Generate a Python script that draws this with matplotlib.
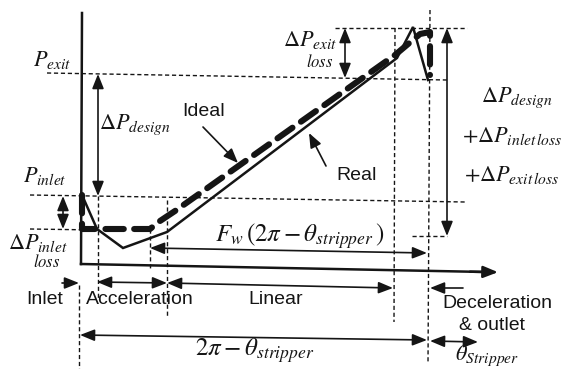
import matplotlib.pyplot as plt

# pressure profile of the sketch (x = angle, y = pressure, pixel frame)
ideal_x = [82, 82, 150, 160, 175, 395, 420, 430, 430]
ideal_y = [195, 229, 229, 221, 211, 55, 34, 32, 75]
real_x = [82, 97, 123, 167, 397, 413, 428]
real_y = [195, 229, 248, 232, 58, 27, 80]

zone_names = ["Inlet", "Acceleration", "Linear"]
zone_x = [45, 140, 276]

plt.rcParams['mathtext.fontset'] = 'stix'
fig = plt.figure(figsize=(5.64, 3.69), dpi=100)
ax = fig.add_axes([0, 0, 1, 1])
ax.set_xlim(0, 564)
ax.set_ylim(369, 0)
ax.axis('off')

K = '#151515'
dash = dict(color=K, lw=1.0, ls=(0, (3, 2)))


def arrow(p0, p1, both=False, lw=1.2):
    st = '<|-|>' if both else '-|>'
    ax.annotate('', xy=p1, xytext=p0,
                arrowprops=dict(arrowstyle=st + ',head_length=0.55,head_width=0.22',
                                mutation_scale=16, lw=lw, color=K,
                                shrinkA=0, shrinkB=0))


# axes
ax.plot([82, 81], [13, 264], color=K, lw=1.8)
ax.plot([81, 486], [264, 272], color=K, lw=1.8)
arrow((470, 271.7), (498, 272.2), lw=1.8)

# dashed guide lines
ax.plot([47, 447], [73, 80], **dash)
ax.plot([335, 467], [28, 28], **dash)
ax.plot([30, 465], [195, 202], **dash)
ax.plot([30, 97], [229, 230], **dash)
ax.plot([412, 447], [236, 236], **dash)
ax.plot([98, 98], [196, 300], **dash)
ax.plot([150, 150], [229, 268], **dash)
ax.plot([167, 167], [200, 318], **dash)
ax.plot([395, 394], [28, 322], **dash)
ax.plot([430, 428], [10, 364], **dash)
ax.plot([79, 79], [285, 369], **dash)

# curves
ax.plot(real_x, real_y, color=K, lw=1.8, solid_joinstyle='miter')
ax.plot(ideal_x, ideal_y, color=K, lw=4.4, ls=(0, (3.0, 1.7)),
        dash_capstyle='round', solid_joinstyle='round')

# dimension arrows
arrow((98, 196), (98, 74), both=True)
arrow((63, 229), (63, 196), both=True)
arrow((345, 78), (345, 28), both=True)
arrow((447, 236), (447, 28), both=True)
arrow((150, 248), (427, 253), both=True)
arrow((62, 283), (79, 283))
arrow((97, 282), (167, 283), both=True)
arrow((167, 283), (393, 288), both=True)
arrow((463, 288), (430, 288))
arrow((80, 335), (427, 340), both=True)
arrow((430, 341), (478, 342), both=True)
arrow((203, 127), (238, 163))
arrow((326, 166), (309, 133))

# labels
m = dict(color=K, ha='center', va='center')
ax.text(52, 60, r'$P_{exit}$', fontsize=16, **m)
ax.text(45, 176, r'$P_{inlet}$', fontsize=16, **m)
ax.text(135, 125, r'$\Delta P_{design}$', fontsize=16, **m)
ax.text(310, 40, r'$\Delta P_{exit}$', fontsize=16, **m)
ax.text(320, 62, r'$loss$', fontsize=12, **m)
ax.text(38, 243, r'$\Delta P_{inlet}$', fontsize=16, **m)
ax.text(47, 262, r'$loss$', fontsize=12, **m)
ax.text(517, 98, r'$\Delta P_{design}$', fontsize=16, **m)
ax.text(512, 136, r'$+\Delta P_{inlet\,loss}$', fontsize=16, **m)
ax.text(512, 175, r'$+\Delta P_{exit\,loss}$', fontsize=16, **m)
ax.text(300, 236, r'$F_w\,(2\pi - \theta_{stripper}\,)$', fontsize=18, **m)
ax.text(255, 351, r'$2\pi - \theta_{stripper}$', fontsize=18, **m)
ax.text(487, 356, r'$\theta_{Stripper}$', fontsize=16, **m)

s = dict(color=K, ha='center', va='center', family='Liberation Sans', fontsize=14)
ax.text(204, 111, 'Ideal', **s)
ax.text(357, 175, 'Real', **s)
for name, x in zip(zone_names, zone_x):
    ax.text(x, 300, name, **s)
ax.text(497, 303, 'Deceleration', **s)
ax.text(492, 326, '& outlet', **s)

fig.savefig('out.png', dpi=100)
